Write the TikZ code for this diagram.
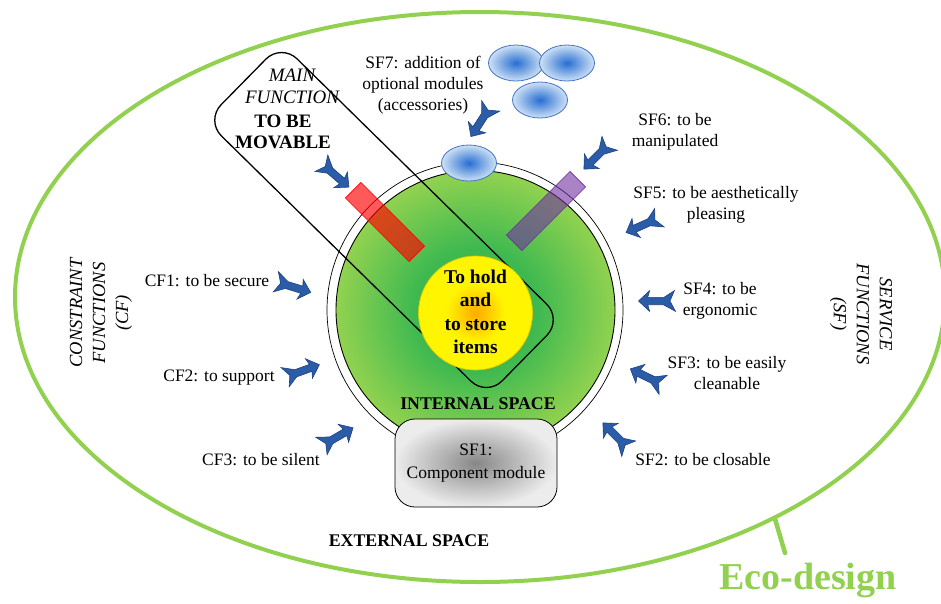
\documentclass[tikz,border=0pt]{standalone}
\usepackage{fontspec}
\setmainfont{Liberation Serif}
\usetikzlibrary{shapes.geometric}
\definecolor{ecogreen}{RGB}{146,208,80}
\definecolor{gcenter}{RGB}{62,185,80}
\definecolor{gedge}{RGB}{146,210,80}
\definecolor{ycenter}{RGB}{255,170,0}
\definecolor{yedge}{RGB}{255,245,0}
\definecolor{yline}{RGB}{225,200,0}
\definecolor{bcenter}{RGB}{40,110,210}
\definecolor{bedge}{RGB}{205,225,245}
\definecolor{bline}{RGB}{68,114,196}
\definecolor{kcenter}{RGB}{135,135,135}
\definecolor{kedge}{RGB}{236,236,236}
\definecolor{arrowblue}{RGB}{42,92,168}
\definecolor{arrowedge}{RGB}{30,65,125}
\definecolor{violet1}{RGB}{112,48,160}
\pgfdeclareradialshading{greenball}{\pgfpointorigin}{color(0bp)=(gcenter); color(11bp)=(gcenter); color(25bp)=(gedge); color(50bp)=(gedge)}
\pgfdeclareradialshading{yellowball}{\pgfpointorigin}{color(0bp)=(ycenter); color(13bp)=(yedge); color(50bp)=(yedge)}
\pgfdeclareradialshading{blueball}{\pgfpointorigin}{color(0bp)=(bcenter); color(25bp)=(bedge); color(50bp)=(bedge)}
\pgfdeclareradialshading{grayball}{\pgfpointorigin}{color(0bp)=(kcenter); color(25bp)=(kedge); color(50bp)=(kedge)}
\tikzset{
  lbl/.style={font=\fontsize{17.5}{21}\selectfont, align=center, inner sep=0pt},
  bold lbl/.style={font=\bfseries\fontsize{17.8}{20}\selectfont, align=center, inner sep=0pt},
  modellipse/.style={ellipse, draw=bline, line width=0.8pt, shading=blueball, minimum width=55pt, minimum height=36pt, inner sep=0pt},
  bluearrow/.pic={
    \filldraw[fill=arrowblue, draw=arrowedge, line width=0.6pt, line join=miter]
      (0.5,0) -- (0.2,-0.28) -- (0.25,-0.1) -- (-0.17,-0.1) -- (-0.5,-0.28)
      -- (-0.35,0) -- (-0.47,0.28) -- (-0.19,0.1) -- (0.25,0.1) -- (0.2,0.28) -- cycle;
  }
}
\begin{document}
\begin{tikzpicture}[x=1pt, y=-1pt]
\useasboundingbox (0,0) rectangle (941,603);
% eco-design ellipse
\node[ellipse, draw=ecogreen, line width=4pt, minimum width=930pt, minimum height=570pt, inner sep=0pt] (eco) at (480,297) {};
\coordinate (ticktip) at (785,553);
\draw[ecogreen, line width=4.5pt, line cap=round] (eco.-37.6) -- (ticktip);
\node[font=\bfseries\fontsize{38}{40}\selectfont, text=ecogreen, inner sep=0pt] (ecotext) at (808,580) {Eco-design};
% circles
\node[circle, draw=black, line width=0.7pt, fill=white, minimum size=296pt, inner sep=0pt] (outer) at (475,310) {};
\node[circle, draw=black, line width=0.9pt, shading=greenball, minimum size=279pt, inner sep=0pt] (inner) at (475.5,310) {};
% main function box
\node[draw=black, line width=1.3pt, rounded corners=22pt, minimum width=394pt, minimum height=108pt, rotate=-44.5, inner sep=0pt] (mainbox) at (384,220) {};
% yellow core
\node[circle, draw=yline, line width=0.7pt, shading=yellowball, minimum size=114pt, inner sep=0pt] (core) at (475.5,313) {};
\node[font=\bfseries\fontsize{19.5}{23.5}\selectfont, align=center, inner sep=0pt] (coretext) at (475.5,312) {To hold\\and\\to store\\items};
% red and purple bars
\node[draw=red, fill=red, fill opacity=0.65, line width=0.6pt, minimum width=90pt, minimum height=22pt, rotate=-45, inner sep=0pt] (redbar) at (385,222) {};
\node[draw=violet1, fill=violet1, fill opacity=0.6, line width=0.6pt, minimum width=90pt, minimum height=22pt, rotate=45, inner sep=0pt] (violetbar) at (546,211) {};
% module ellipses
\node[modellipse] (m0) at (469,163) {};
\node[modellipse] (m1) at (516,63) {};
\node[modellipse] (m2) at (567,63) {};
\node[modellipse] (m3) at (540,100) {};
% SF1 box
\node[draw=black, line width=0.8pt, rounded corners=20pt, shading=grayball, minimum width=162pt, minimum height=88pt, inner sep=0pt, lbl, font=\fontsize{17.5}{23}\selectfont] (sf1) at (476,463) {SF1:\\Component module};
% labels
\node[bold lbl] (internal) at (478,404) {INTERNAL SPACE};
\node[bold lbl] (external) at (409,541) {EXTERNAL SPACE};
\node[font=\itshape\fontsize{19}{22}\selectfont, align=center, inner sep=0pt] (mainlbl) at (292,86) {MAIN\\FUNCTION};
\node[font=\bfseries\fontsize{19}{21.5}\selectfont, align=center, inner sep=0pt] (movable) at (283,132) {TO BE\\MOVABLE};
\node[lbl] (sf7) at (423,85) {SF7: addition of\\optional modules\\(accessories)};
\node[lbl] (sf6) at (675,132) {SF6: to be\\manipulated};
\node[lbl] (sf5) at (716,205) {SF5: to be aesthetically\\pleasing};
\node[lbl] (sf4) at (720,301) {SF4: to be\\ergonomic};
\node[lbl] (sf3) at (727,373) {SF3: to be easily\\cleanable};
\node[lbl] (sf2) at (703,460) {SF2: to be closable};
\node[lbl] (cf1) at (207,281) {CF1: to be secure};
\node[lbl] (cf2) at (219,378) {CF2: to support};
\node[lbl] (cf3) at (261,460) {CF3: to be silent};
\node[font=\itshape\fontsize{18.5}{23}\selectfont, align=center, inner sep=0pt, rotate=90] (cflbl) at (101,313) {CONSTRAINT\\FUNCTIONS\\(CF)};
\node[font=\itshape\fontsize{18.5}{23}\selectfont, align=center, inner sep=0pt, rotate=-90] (sflbl) at (861,314) {SERVICE\\FUNCTIONS\\(SF)};
% arrows
\pic[rotate=-41, scale=37] (amain) at (335,175) {bluearrow};
\pic[rotate=-123, scale=37] (a7) at (481,121) {bluearrow};
\pic[rotate=-135, scale=37] (a6) at (597,156) {bluearrow};
\pic[rotate=204, scale=37] (a5) at (643,225) {bluearrow};
\pic[rotate=180, scale=37] (a4) at (657,301) {bluearrow};
\pic[rotate=154, scale=37] (a3) at (647,377) {bluearrow};
\pic[rotate=135, scale=37] (a2) at (616,436) {bluearrow};
\pic[rotate=-17, scale=37] (c1) at (293,287) {bluearrow};
\pic[rotate=20, scale=37] (c2) at (302,371) {bluearrow};
\pic[rotate=30, scale=37] (c3) at (337,437) {bluearrow};
\end{tikzpicture}
\end{document}
